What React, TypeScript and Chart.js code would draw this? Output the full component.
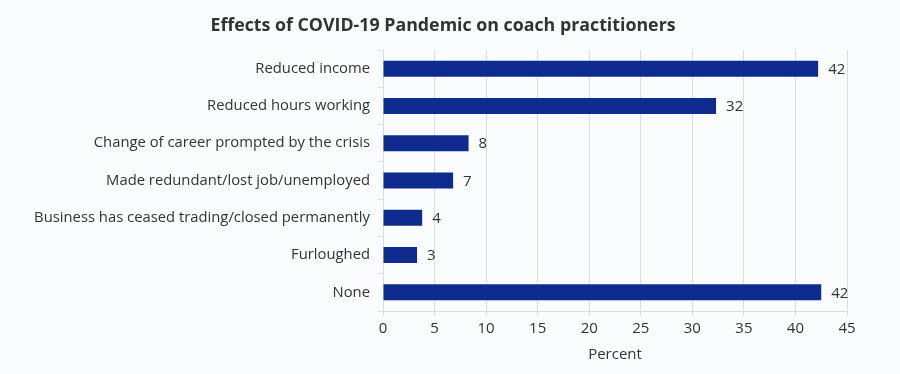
import React, { useEffect, useRef } from "react";
import { Chart, registerables } from "chart.js";

Chart.register(...registerables);

const categories = [
  "Reduced income",
  "Reduced hours working",
  "Change of career prompted by the crisis",
  "Made redundant/lost job/unemployed",
  "Business has ceased trading/closed permanently",
  "Furloughed",
  "None",
];
const values = [42.2, 32.3, 8.3, 6.8, 3.8, 3.3, 42.5];
const valueLabels = ["42", "32", "8", "7", "4", "3", "42"];
const xTicks = [0, 5, 10, 15, 20, 25, 30, 35, 40, 45];
const chartTitle = "Effects of COVID-19 Pandemic on coach practitioners";

const FONT = "'Open Sans', sans-serif";
const TEXT = "#333333";

const labelPlugin = {
  id: "barLabels",
  afterDatasetsDraw(chart: any) {
    const ctx = chart.ctx;
    const meta = chart.getDatasetMeta(0);
    ctx.save();
    ctx.font = `15px ${FONT}`;
    ctx.fillStyle = TEXT;
    ctx.textAlign = "left";
    ctx.textBaseline = "middle";
    meta.data.forEach((bar: any, i: number) => {
      ctx.fillText(valueLabels[i], bar.x + 10, bar.y + 1);
    });
    ctx.restore();
  },
};

const titlePlugin = {
  id: "customTitle",
  afterDraw(chart: any) {
    const ctx = chart.ctx;
    ctx.save();
    ctx.font = `bold 17.8px ${FONT}`;
    ctx.fillStyle = TEXT;
    ctx.textAlign = "center";
    ctx.textBaseline = "middle";
    ctx.fillText(chartTitle, 443, 26);
    ctx.restore();
  },
};

export default function App() {
  const ref = useRef<HTMLCanvasElement | null>(null);
  useEffect(() => {
    document.body.style.margin = "0";
    document.body.style.background = "#fbfcfe";
    const chart = new Chart(ref.current as HTMLCanvasElement, {
      type: "bar",
      data: {
        labels: categories,
        datasets: [
          {
            data: values,
            backgroundColor: "#0e2c8f",
            borderWidth: 0,
            barPercentage: 0.43,
            categoryPercentage: 1,
          },
        ],
      },
      plugins: [labelPlugin, titlePlugin],
      options: {
        indexAxis: "y",
        animation: false,
        responsive: false,
        maintainAspectRatio: false,
        layout: { padding: { left: 0, right: 53, top: 50, bottom: 10 } },
        plugins: {
          legend: { display: false },
          tooltip: { enabled: false },
          title: { display: false },
        },
        scales: {
          x: {
            type: "linear",
            min: 0,
            max: 45,
            afterBuildTicks: (scale: any) => {
              scale.ticks = xTicks.map((v) => ({ value: v }));
            },
            ticks: {
              color: TEXT,
              font: { family: FONT, size: 15 },
              padding: 4,
            },
            grid: {
              color: "#dcdcdc",
              tickLength: 5,
              lineWidth: 1,
            },
            border: { color: "#dcdcdc" },
            title: {
              display: true,
              text: "Percent",
              color: TEXT,
              font: { family: FONT, size: 15 },
              padding: { top: 4, bottom: 0 },
            },
          },
          y: {
            afterFit: (scale: any) => {
              scale.width = 383;
            },
            ticks: {
              color: TEXT,
              font: { family: FONT, size: 14.8 },
              padding: 8,
            },
            grid: {
              drawOnChartArea: false,
              color: "#dcdcdc",
              tickLength: 5,
            },
            border: { color: "#dcdcdc" },
          },
        },
      },
    } as any);
    return () => chart.destroy();
  }, []);
  return (
    <div style={{ width: 900, height: 374 }}>
      <canvas ref={ref} width={900} height={374} style={{ display: "block" }} />
    </div>
  );
}
